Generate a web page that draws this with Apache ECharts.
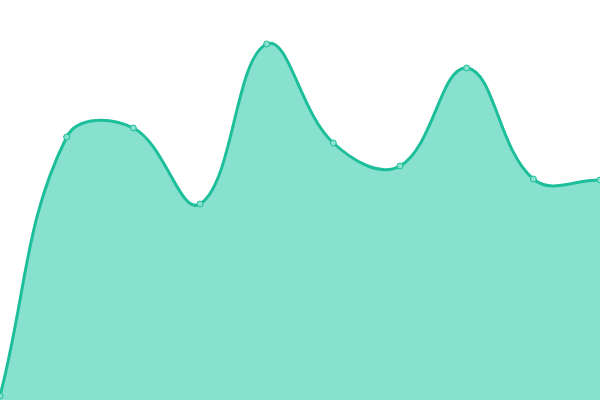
<!DOCTYPE html>
<html><head><meta charset="utf-8">
<script src="https://cdn.jsdelivr.net/npm/echarts@6/dist/echarts.min.js"></script>
<style>html,body{margin:0;padding:0;background:#fff}#c{width:600px;height:400px}</style>
</head><body><div id="c"></div>
<script>
var categories = ['1','2','3','4','5','6','7','8','9','10'];
var values = [4, 263, 272, 196, 356, 257, 234, 332, 221, 220];
var LINE = '#1dbf9a', AREA = '#88e0cf', TENSION = 0.4;

function buildCurve(pts, w, h) {
  var n = pts.length, cps = [];
  for (var i = 0; i < n; i++) {
    var prev = i === 0 ? pts[0] : pts[i - 1];
    var cur = pts[i];
    var next = i === n - 1 ? pts[n - 1] : pts[i + 1];
    var d01 = Math.hypot(cur[0] - prev[0], cur[1] - prev[1]);
    var d12 = Math.hypot(next[0] - cur[0], next[1] - cur[1]);
    var s01 = d01 / (d01 + d12), s12 = d12 / (d01 + d12);
    if (isNaN(s01)) s01 = 0;
    if (isNaN(s12)) s12 = 0;
    var fa = TENSION * s01, fb = TENSION * s12;
    var vx = next[0] - prev[0], vy = next[1] - prev[1];
    var c = {
      p: [cur[0] - fa * vx, cur[1] - fa * vy],
      n: [cur[0] + fb * vx, cur[1] + fb * vy]
    };
    [c.p, c.n].forEach(function (q) {
      q[0] = Math.max(0, Math.min(w, q[0]));
      q[1] = Math.max(0, Math.min(h, q[1]));
    });
    cps.push(c);
  }
  var d = 'M' + pts[0][0] + ',' + pts[0][1];
  for (var j = 1; j < n; j++) {
    var a = cps[j - 1].n, b = cps[j].p, p = pts[j];
    d += ' C' + a[0] + ',' + a[1] + ' ' + b[0] + ',' + b[1] + ' ' + p[0] + ',' + p[1];
  }
  return d;
}

var chart = echarts.init(document.getElementById('c'));
chart.setOption({
  animation: false,
  grid: {left: 0, right: 0, top: 0, bottom: 0},
  xAxis: {type: 'category', data: categories, boundaryGap: false, show: false},
  yAxis: {type: 'value', min: 0, max: 400, show: false},
  series: [{
    type: 'custom',
    data: values.map(function (v, i) { return [i, v]; }),
    renderItem: function (params, api) {
      var idx = params.dataIndex;
      var pt = api.coord([idx, values[idx]]);
      var children = [];
      if (idx === 0) {
        var pts = values.map(function (v, i) { return api.coord([i, v]); });
        var base = api.coord([0, 0])[1];
        var curve = buildCurve(pts, api.getWidth(), api.getHeight());
        var last = pts[pts.length - 1];
        children.push({
          type: 'path',
          shape: {pathData: curve + ' L' + last[0] + ',' + base + ' L' + pts[0][0] + ',' + base + ' Z'},
          style: {fill: AREA, stroke: null}
        });
        children.push({
          type: 'path',
          shape: {pathData: curve},
          style: {fill: null, stroke: LINE, lineWidth: 3}
        });
      }
      children.push({
        type: 'circle',
        shape: {cx: pt[0], cy: pt[1], r: 3},
        style: {fill: AREA, stroke: LINE, lineWidth: 1}
      });
      return {type: 'group', children: children};
    }
  }]
});
</script></body></html>
